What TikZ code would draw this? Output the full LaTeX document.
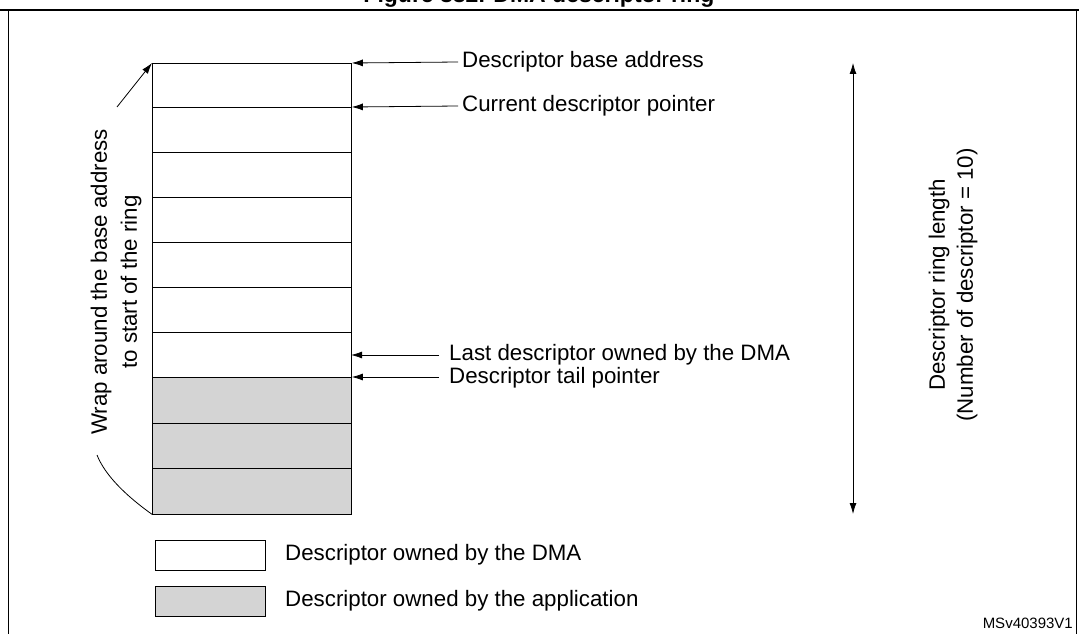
\documentclass[tikz,border=0pt]{standalone}
\usepackage{fontspec}
\setmainfont{Liberation Sans}
\usetikzlibrary{arrows.meta}
\begin{document}
\begin{tikzpicture}[x=1pt,y=-1pt,
  lbl/.style={font=\fontsize{22.3}{26}\selectfont,anchor=west,inner sep=0pt},
  ptr/.style={-{Latex[length=11pt,width=7pt]},line width=0.8pt},
  cell/.style={draw,line width=0.8pt}]
\useasboundingbox (0,0) rectangle (1079,634);
\begin{scope}
\clip (0,0) rectangle (1079,634);
\node[font=\bfseries\fontsize{23}{26}\selectfont,anchor=base] (title) at (539,3) {Figure 882. DMA descriptor ring};
\end{scope}
\draw[line width=1.8pt] (0,10) -- (1079,10);
\draw[line width=0.8pt] (8,10) -- (8,634) (1076,10) -- (1076,634);
% cells
\foreach \i/\a in {1/63,2/107,3/152,4/197,5/242,6/287,7/332}
  \node[cell,fill=white,minimum width=199pt,minimum height=45pt,inner sep=0pt,anchor=north west] (c\i) at (152,\a) {};
\foreach \i/\a in {8/377,9/422.5,10/468}
  \node[cell,fill=black!17,minimum width=199pt,minimum height=45.5pt,inner sep=0pt,anchor=north west] (c\i) at (152,\a) {};
% pointer labels
\node[lbl] (l1) at (462,62) {Descriptor base address};
\node[lbl] (l2) at (462,106) {Current descriptor pointer};
\node[lbl] (l3) at (449,355) {Last descriptor owned by the DMA};
\node[lbl] (l4) at (449,378) {Descriptor tail pointer};
\draw[ptr] (l1.west)++(-4,0) -- (c1.north east);
\draw[ptr] (l2.west)++(-4,0) -- (c2.north east);
\draw[ptr] (l3.west)++(-10,0) -- (351,355);
\draw[ptr] (l4.west)++(-10,-1) -- (c8.north east);
% ring length
\coordinate (rt) at (853,63); \coordinate (rb) at (853,514);
\draw[{Latex[length=11pt,width=7pt]}-{Latex[length=11pt,width=7pt]},line width=0.8pt] (rt) -- (rb);
\node[font=\fontsize{22.3}{28}\selectfont,rotate=90,align=center] (rl) at (953,285) {Descriptor ring length\\(Number of descriptor = 10)};
% wrap
\node[font=\fontsize{22.3}{30}\selectfont,rotate=90,align=center,inner sep=1pt] (wl) at (116,282) {Wrap around the base address\\to start of the ring};
\coordinate (wb) at (97,455);
\coordinate (wt) at (117,107);
\draw[line width=0.8pt] (c10.south west) .. controls (125,495) and (105,475) .. (wb);
\draw[ptr] (wt) -- (c1.north west);
% legend
\node[cell,fill=white,minimum width=110pt,minimum height=30pt,inner sep=0pt,anchor=north west] (k1) at (155,540) {};
\node[cell,fill=black!17,minimum width=110pt,minimum height=30pt,inner sep=0pt,anchor=north west] (k2) at (155,586) {};
\node[lbl] (t1) at (285,555) {Descriptor owned by the DMA};
\node[lbl] (t2) at (285,601) {Descriptor owned by the application};
\node[font=\fontsize{15}{17}\selectfont,anchor=east,inner sep=0pt] (ms) at (1073,623) {MSv40393V1};
\end{tikzpicture}
\end{document}
